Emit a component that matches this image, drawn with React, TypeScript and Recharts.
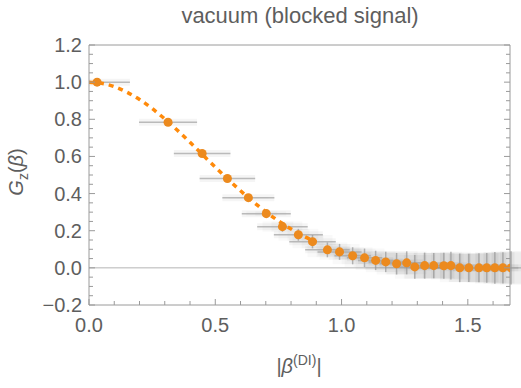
import {
  ComposedChart,
  Scatter,
  Line,
  XAxis,
  YAxis,
  ErrorBar,
  ReferenceLine,
} from "recharts";

// measured points (|beta|, G_z)
const pointX = [
  0.032, 0.313, 0.448, 0.548, 0.631, 0.702, 0.766, 0.829, 0.885, 0.944, 0.992,
  1.044, 1.091, 1.135, 1.175, 1.218, 1.258, 1.29, 1.329, 1.365, 1.405, 1.433,
  1.468, 1.504, 1.544, 1.575, 1.607, 1.639, 1.671,
];
const pointY = [
  1.0, 0.784, 0.616, 0.481, 0.378, 0.292, 0.222, 0.178, 0.141, 0.097, 0.086,
  0.065, 0.054, 0.04, 0.032, 0.022, 0.027, 0.005, 0.012, 0.012, 0.011, 0.012,
  0.0, 0.0, 0.0, 0.0, 0.0, 0.0, 0.0,
];
const pointXErr = [
  0.13, 0.115, 0.112, 0.11, 0.103, 0.097, 0.1, 0.097, 0.092, 0.088, 0.087,
  0.072, 0.07, 0.07, 0.068, 0.068, 0.066, 0.066, 0.065, 0.065, 0.064, 0.064,
  0.063, 0.063, 0.062, 0.062, 0.062, 0.061, 0.061,
];
const pointYErr = [
  0, 0, 0, 0, 0.004, 0.012, 0.027, 0.032, 0.036, 0.04, 0.043, 0.046, 0.05,
  0.052, 0.055, 0.058, 0.062, 0.064, 0.07, 0.068, 0.07, 0.075, 0.077, 0.076,
  0.078, 0.08, 0.085, 0.084, 0.09,
];

// dashed reference curve
const curveX = [
  0, 0.05, 0.1, 0.15, 0.2, 0.25, 0.3, 0.35, 0.4, 0.45, 0.5, 0.55, 0.6, 0.65,
  0.7, 0.75, 0.8, 0.85, 0.9,
];
const curveY = [
  1.0, 0.994, 0.976, 0.946, 0.907, 0.858, 0.802, 0.741, 0.676, 0.609, 0.542,
  0.477, 0.415, 0.356, 0.302, 0.253, 0.209, 0.171, 0.138,
];

const xTicks = [
  0, 0.1, 0.2, 0.3, 0.4, 0.5, 0.6, 0.7, 0.8, 0.9, 1.0, 1.1, 1.2, 1.3, 1.4, 1.5,
  1.6,
];
const yTicks = [
  -0.2, -0.15, -0.1, -0.05, 0, 0.05, 0.1, 0.15, 0.2, 0.25, 0.3, 0.35, 0.4, 0.45,
  0.5, 0.55, 0.6, 0.65, 0.7, 0.75, 0.8, 0.85, 0.9, 0.95, 1.0, 1.05, 1.1, 1.15,
  1.2,
];

const points = pointX.map((x, i) => ({
  x,
  y: pointY[i],
  xerr: [Math.min(x, pointXErr[i]), pointXErr[i]],
  yerr: pointYErr[i],
}));
const curve = curveX.map((x, i) => ({ x, c: curveY[i] }));

const FRAME = "#9a9a9a";
const LABEL = "#5e5e5e";
const FONT = "'Liberation Sans', Arial, sans-serif";
const ORANGE_DOT = "#ec8a1e";
const ORANGE_LINE = "#ff8a0a";

const isMultiple = (v: number, step: number) =>
  Math.abs(v / step - Math.round(v / step)) < 1e-6;
const fmt = (v: number) => (v < 0 ? "\u2212" + (-v).toFixed(1) : v.toFixed(1));

function BottomTick(props: any) {
  const { x, y, payload } = props;
  const major = isMultiple(payload.value, 0.5);
  return (
    <g>
      <line x1={x} x2={x} y1={y} y2={y - (major ? 6 : 4)} stroke={FRAME} />
      {major && (
        <text x={x} y={y + 27} textAnchor="middle" fill={LABEL} fontSize={20} fontFamily={FONT}>
          {fmt(payload.value)}
        </text>
      )}
    </g>
  );
}

function TopTick(props: any) {
  const { x, y, payload } = props;
  const major = isMultiple(payload.value, 0.5);
  return <line x1={x} x2={x} y1={y} y2={y + (major ? 6 : 4)} stroke={FRAME} />;
}

function LeftTick(props: any) {
  const { x, y, payload } = props;
  const major = isMultiple(payload.value, 0.2);
  return (
    <g>
      <line x1={x} x2={x + (major ? 6 : 4)} y1={y} y2={y} stroke={FRAME} />
      {major && (
        <text x={x - 7} y={y + 7} textAnchor="end" fill={LABEL} fontSize={20} fontFamily={FONT}>
          {fmt(payload.value)}
        </text>
      )}
    </g>
  );
}

function RightTick(props: any) {
  const { x, y, payload } = props;
  const major = isMultiple(payload.value, 0.2);
  return <line x1={x} x2={x - (major ? 6 : 4)} y1={y} y2={y} stroke={FRAME} />;
}

export default function App() {
  return (
    <div style={{ position: "absolute", left: 0, top: 0, width: 521, height: 388, background: "#fff", fontFamily: FONT }}>
      <ComposedChart width={521} height={388} margin={{ top: 44, right: 10, bottom: 0, left: 0 }}>
        <XAxis
          type="number"
          dataKey="x"
          domain={[0, 1.667]}
          allowDataOverflow
          ticks={xTicks}
          interval={0}
          height={83}
          tickSize={0}
          tickMargin={0}
          tickLine={false}
          stroke={FRAME}
          tick={(p: any) => <BottomTick {...p} />}
        />
        <XAxis
          xAxisId="top"
          orientation="top"
          type="number"
          domain={[0, 1.667]}
          allowDataOverflow
          ticks={xTicks}
          interval={0}
          height={1}
          tickSize={0}
          tickMargin={0}
          tickLine={false}
          stroke={FRAME}
          tick={(p: any) => <TopTick {...p} />}
        />
        <YAxis
          type="number"
          domain={[-0.2, 1.2]}
          allowDataOverflow
          ticks={yTicks}
          interval={0}
          width={89}
          tickSize={0}
          tickMargin={0}
          tickLine={false}
          stroke={FRAME}
          tick={(p: any) => <LeftTick {...p} />}
        />
        <YAxis
          yAxisId="right"
          orientation="right"
          type="number"
          domain={[-0.2, 1.2]}
          allowDataOverflow
          ticks={yTicks}
          interval={0}
          width={1}
          tickSize={0}
          tickMargin={0}
          tickLine={false}
          stroke={FRAME}
          tick={(p: any) => <RightTick {...p} />}
        />
        <ReferenceLine y={0} stroke="#b4b4b4" strokeWidth={1} />
        <Scatter data={points} dataKey="y" fill={ORANGE_DOT} isAnimationActive={false}>
          <ErrorBar dataKey="yerr" direction="y" width={0} stroke="#000" strokeOpacity={0.022} strokeWidth={40} />
          <ErrorBar dataKey="yerr" direction="y" width={0} stroke="#000" strokeOpacity={0.022} strokeWidth={22} />
          <ErrorBar dataKey="xerr" direction="x" width={0} stroke="#000" strokeOpacity={0.04} strokeWidth={7} />
          <ErrorBar dataKey="xerr" direction="x" width={0} stroke="#a6a6a6" strokeOpacity={0.75} strokeWidth={1.5} />
          <ErrorBar dataKey="yerr" direction="y" width={0} stroke="#959595" strokeOpacity={0.7} strokeWidth={1.5} />
        </Scatter>
        <Line
          data={curve}
          dataKey="c"
          type="monotone"
          stroke={ORANGE_LINE}
          strokeWidth={3.5}
          strokeDasharray="5 5"
          dot={false}
          activeDot={false}
          isAnimationActive={false}
        />
      </ComposedChart>
      <div style={{ position: "absolute", left: 0, top: 3, width: 600, textAlign: "center", fontSize: 22, color: LABEL, whiteSpace: "nowrap" }}>
        vacuum (blocked signal)
      </div>
      <div
        style={{
          position: "absolute",
          left: 18,
          top: 172,
          transform: "translate(-50%, -50%) rotate(-90deg)",
          fontSize: 20,
          color: LABEL,
          whiteSpace: "nowrap",
        }}
      >
        <i>G</i>
        <sub style={{ fontSize: 14 }}>z</sub>(<i>β</i>)
      </div>
      <div style={{ position: "absolute", left: 0, top: 352, width: 598, textAlign: "center", fontSize: 20, color: LABEL, whiteSpace: "nowrap" }}>
        |<i>β</i>
        <sup style={{ fontSize: 14 }}>(DI)</sup>|
      </div>
    </div>
  );
}
